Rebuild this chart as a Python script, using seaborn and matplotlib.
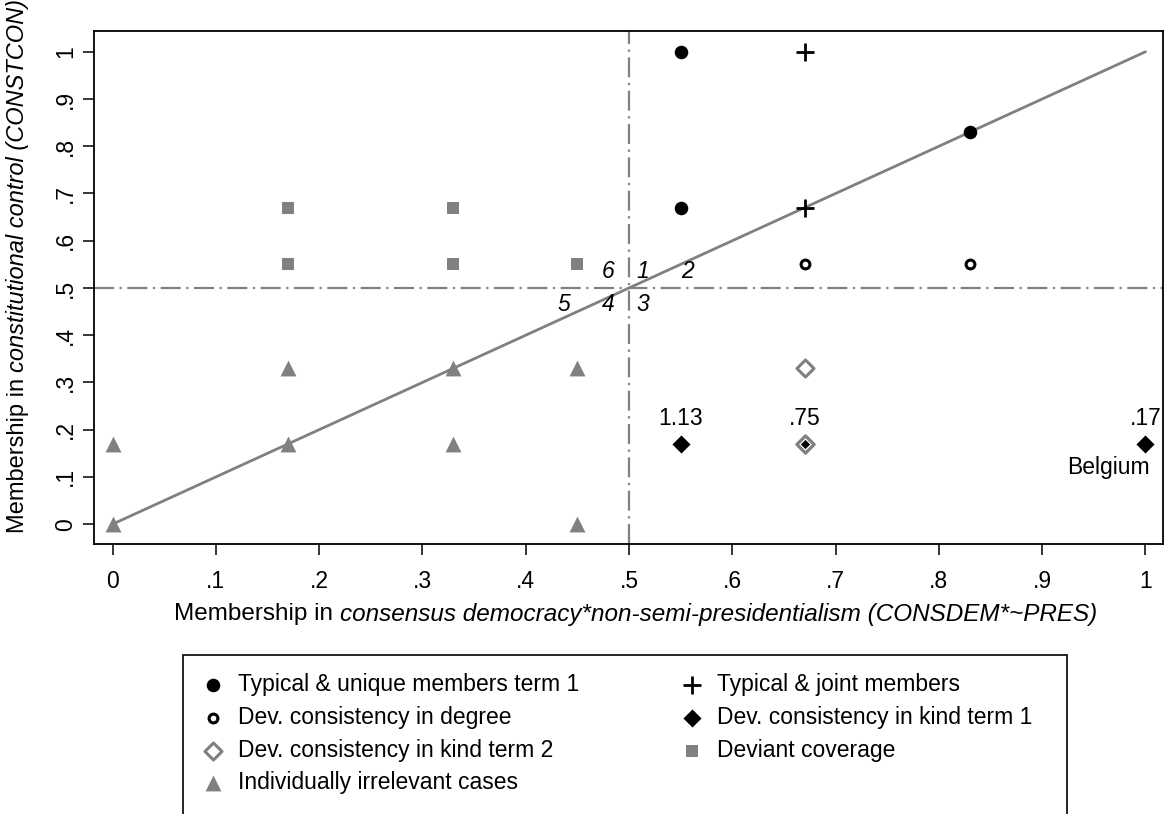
import matplotlib
matplotlib.use('Agg')
import matplotlib.pyplot as plt
from matplotlib.patches import Rectangle
import seaborn as sns
import pandas as pd

# membership scores (x = CONSDEM*~PRES, y = CONSTCON)
typical_unique_x = [0.55, 0.55, 0.83]
typical_unique_y = [1.0, 0.67, 0.83]
typical_joint_x = [0.67, 0.67]
typical_joint_y = [1.0, 0.67]
dev_degree_x = [0.67, 0.83]
dev_degree_y = [0.55, 0.55]
dev_kind1_x = [0.55, 0.67, 1.0]
dev_kind1_y = [0.17, 0.17, 0.17]
dev_kind2_x = [0.67, 0.67]
dev_kind2_y = [0.33, 0.17]
dev_cov_x = [0.17, 0.17, 0.33, 0.33, 0.45]
dev_cov_y = [0.67, 0.55, 0.67, 0.55, 0.55]
irrelevant_x = [0.0, 0.0, 0.17, 0.17, 0.33, 0.33, 0.45, 0.45]
irrelevant_y = [0.17, 0.0, 0.33, 0.17, 0.33, 0.17, 0.33, 0.0]

diag_x = [0.0, 1.0]
diag_y = [0.0, 1.0]
threshold = 0.5

# labels above the kind-term-1 deviant cases
kind1_labels = ['1.13', '.75', '.17']

ticks = [0, .1, .2, .3, .4, .5, .6, .7, .8, .9, 1]
tick_labels = ['0', '.1', '.2', '.3', '.4', '.5', '.6', '.7', '.8', '.9', '1']

# quadrant numbers around (.5, .5)
quad_labels = ['6', '1', '2', '5', '4', '3']
quad_x = [0.48, 0.513, 0.557, 0.437, 0.48, 0.513]
quad_y = [0.535, 0.535, 0.535, 0.464, 0.464, 0.464]

GRAY = '#808080'
FS = 16.5

sns.set_style('white')
plt.rcParams['font.family'] = ['Liberation Sans', 'DejaVu Sans']
plt.rcParams['text.color'] = 'black'
plt.rcParams['xtick.color'] = 'black'
plt.rcParams['ytick.color'] = 'black'

fig = plt.figure(figsize=(11.65, 8.14), dpi=100)
ax = fig.add_axes([94 / 1165, 1 - 544 / 814, (1163 - 94) / 1165, (544 - 31) / 814])

ax.axvline(threshold, color=GRAY, lw=1.6, dashes=(9, 2.5, 1, 2.5), zorder=1)
ax.axhline(threshold, color=GRAY, lw=1.6, dashes=(9, 2.5, 1, 2.5), zorder=1)
sns.lineplot(x=diag_x, y=diag_y, ax=ax, color=GRAY, lw=2, zorder=2)


def df(x, y):
    return pd.DataFrame({'x': x, 'y': y})


sns.scatterplot(data=df(typical_unique_x, typical_unique_y), x='x', y='y', ax=ax,
                marker='o', s=95, color='black', edgecolor='black', linewidth=0,
                label='Typical & unique members term 1', zorder=4)
sns.scatterplot(data=df(typical_joint_x, typical_joint_y), x='x', y='y', ax=ax,
                marker='+', s=175, color='black', linewidth=2,
                label='Typical & joint members', zorder=4)
sns.scatterplot(data=df(dev_degree_x, dev_degree_y), x='x', y='y', ax=ax,
                marker='o', s=40, color='white', edgecolor='black', linewidth=2.2,
                label='Dev. consistency in degree', zorder=4)
sns.scatterplot(data=df(dev_kind2_x, dev_kind2_y), x='x', y='y', ax=ax,
                marker='D', s=75, color='white', edgecolor=GRAY, linewidth=2.2,
                label='Dev. consistency in kind term 2', zorder=3)
sns.scatterplot(data=df(dev_kind1_x, dev_kind1_y), x='x', y='y', ax=ax,
                marker='D', s=85, color='black', edgecolor='black', linewidth=0,
                label='Dev. consistency in kind term 1', zorder=4)
# overlap at (.67, .17): grey hollow diamond with a small black one inside
sns.scatterplot(x=[dev_kind2_x[1]], y=[dev_kind2_y[1]], ax=ax,
                marker='D', s=75, color='white', edgecolor=GRAY, linewidth=2.2,
                zorder=5)
sns.scatterplot(x=[dev_kind1_x[1]], y=[dev_kind1_y[1]], ax=ax,
                marker='D', s=22, color='black', linewidth=0, zorder=6)
sns.scatterplot(data=df(dev_cov_x, dev_cov_y), x='x', y='y', ax=ax,
                marker='s', s=80, color=GRAY, linewidth=0,
                label='Deviant coverage', zorder=4)
sns.scatterplot(data=df(irrelevant_x, irrelevant_y), x='x', y='y', ax=ax,
                marker='^', s=130, color=GRAY, linewidth=0,
                label='Individually irrelevant cases', zorder=4)

for x, y, t in zip(dev_kind1_x, dev_kind1_y, kind1_labels):
    ha = 'right' if x >= 1 else 'center'
    xo = 12 if x >= 1 else 0
    ax.annotate(t, (x, y), xytext=(xo, 10), textcoords='offset points',
                ha=ha, va='bottom', fontsize=FS)
ax.annotate('Belgium', (dev_kind1_x[2], dev_kind1_y[2]), xytext=(3, -17),
            textcoords='offset points', ha='right', va='center', fontsize=FS)

for t, x, y in zip(quad_labels, quad_x, quad_y):
    ax.text(x, y, t, ha='center', va='center', fontsize=FS, style='italic')

ax.set_xlim(-0.018, 1.017)
ax.set_ylim(-0.042, 1.044)
ax.set_xticks(ticks)
ax.set_xticklabels(tick_labels)
ax.set_yticks(ticks)
ax.set_yticklabels(tick_labels, rotation=90, va='center')
ax.tick_params(axis='both', direction='out', length=8, width=1.1, color='black',
               labelsize=FS, bottom=True, left=True)
ax.tick_params(axis='x', pad=11)
ax.tick_params(axis='y', pad=4)
for s in ax.spines.values():
    s.set_color('black')
    s.set_linewidth(1.3)
ax.set_xlabel('')
ax.set_ylabel('')
ax.get_legend().remove()

# handles in legend order (matplotlib fills the columns top to bottom)
handles, labels = ax.get_legend_handles_labels()
order = ['Typical & unique members term 1', 'Dev. consistency in degree',
         'Dev. consistency in kind term 2', 'Individually irrelevant cases',
         'Typical & joint members', 'Dev. consistency in kind term 1',
         'Deviant coverage']
hmap = dict(zip(labels, handles))
leg = fig.legend([hmap[l] for l in order], order, ncol=2, loc='upper left',
                 bbox_to_anchor=(183 / 1165, 1 - 655 / 814), fontsize=FS,
                 frameon=False, handlelength=1.0, handletextpad=0.6,
                 columnspacing=4.4, labelspacing=0.42, borderpad=0.8,
                 borderaxespad=0)
# legend box runs past the bottom edge of the picture, as in the original
fig.add_artist(Rectangle((183 / 1165, -0.05), (1067 - 183) / 1165, 0.05 + 1 - 655 / 814,
                         transform=fig.transFigure, fill=False, edgecolor='black',
                         linewidth=1.2, clip_on=False))

# axis titles with mixed upright / italic parts
fig.canvas.draw()
r = fig.canvas.get_renderer()
XFS = 17.5
xa = fig.text(0, 1 - 614 / 814, 'Membership in ', ha='left', va='center', fontsize=XFS)
xb = fig.text(0, 1 - 614 / 814, 'consensus democracy*non-semi-presidentialism (CONSDEM*~PRES)',
              ha='left', va='center', fontsize=XFS, style='italic')
wa = xa.get_window_extent(r).width
wb = xb.get_window_extent(r).width
x0 = 636 - (wa + wb) / 2
xa.set_x(x0 / 1165)
xb.set_x((x0 + wa) / 1165)

ya = fig.text(18 / 1165, 0, 'Membership in ', rotation=90, ha='center', va='bottom',
              fontsize=FS + 0.5)
yb = fig.text(18 / 1165, 0, 'constitutional control (CONSTCON)', rotation=90,
              ha='center', va='bottom', fontsize=FS + 0.5, style='italic')
ha_ = ya.get_window_extent(r).height
hb_ = yb.get_window_extent(r).height
ybot = 814 - (266 + (ha_ + hb_) / 2)
ya.set_y(ybot / 814)
yb.set_y((ybot + ha_) / 814)

fig.savefig('out.png', dpi=100)
